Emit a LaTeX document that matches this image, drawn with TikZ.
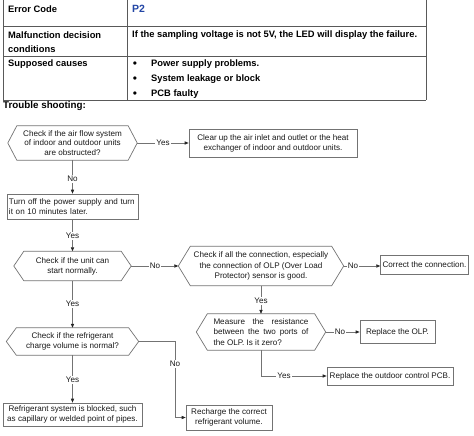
\documentclass[tikz,border=0pt]{standalone}
\usepackage{fontspec}
\setmainfont{Liberation Sans}
\usetikzlibrary{arrows.meta,calc}
\definecolor{ptwo}{RGB}{35,70,165}
\begin{document}
\begin{tikzpicture}[x=1pt,y=-1pt,
 tline/.style={draw=black!65, line width=0.9pt},
 line/.style={draw=black!55, line width=0.7pt},
 arr/.style={line, -{Triangle[length=4pt,width=3.2pt,color=black!85]}},
 fc/.style={font=\fontsize{8.1}{10}\selectfont, text=black!90, inner sep=0pt, align=center},
 boxn/.style={fc, draw=black!55, line width=0.7pt},
 lab/.style={font=\fontsize{8.1}{10}\selectfont, text=black!90, fill=white, inner sep=1pt},
 tb/.style={font=\fontsize{9.35}{14.5}\selectfont\bfseries, anchor=west, inner sep=0pt, align=left},
 bul/.style={font=\fontsize{12}{12}\selectfont, inner sep=0pt},
]
\useasboundingbox (0,0) rectangle (474,436);

% ---------- table ----------
\draw[tline] (3,0) -- (3,100);
\draw[tline] (127,0) -- (127,100);
\draw[tline] (426,0) -- (426,100);
\draw[tline] (3,26) -- (426,26);
\draw[tline] (3,56) -- (426,56);
\draw[tline] (3,100) -- (426,100);

\node[tb] (t1) at (8,9) {Error Code};
\node[tb, text=ptwo, font=\fontsize{10.5}{12}\selectfont\bfseries] (t2) at (132,9) {P2};
\node[tb, font=\fontsize{9.35}{14}\selectfont\bfseries] (t3) at (8,42) {Malfunction decision\\conditions};
\node[tb] (t4) at (132,35) {If the sampling voltage is not 5V, the LED will display the failure.};
\node[tb] (t5) at (8,64) {Supposed causes};
\node[bul] (u1) at (135,64.5) {•};
\node[bul] (u2) at (135,79.5) {•};
\node[bul] (u3) at (135,94.5) {•};
\node[tb] (c1) at (151,64) {Power supply problems.};
\node[tb] (c2) at (151,79) {System leakage or block};
\node[tb] (c3) at (151,94) {PCB faulty};
\node[tb, font=\fontsize{9.8}{12}\selectfont\bfseries] (ts) at (3,106) {Trouble shooting:};

% ---------- hexagon macro ----------
\newcommand\hexa[7][]{%
 \node[fc,minimum width=#4pt,minimum height=#5pt,#1] (#2) at #3 {#7};
 \coordinate (#2-l) at ([xshift=-#6pt]#2.west);
 \coordinate (#2-r) at ([xshift=#6pt]#2.east);
 \draw[line] (#2.north west) -- (#2.north east) -- (#2-r) -- (#2.south east)
   -- (#2.south west) -- (#2-l) -- cycle;}

% ---------- flowchart nodes ----------
\hexa[font=\fontsize{8.1}{9.2}\selectfont]{h1}{(72.5,143)}{111}{34}{9}{Check if the air flow system\\of indoor and outdoor units\\are obstructed?}
\node[boxn, minimum width=168pt, minimum height=28pt] (b1) at (273,143)
  {Clear up the air inlet and outlet or the heat\\exchanger of indoor and outdoor units.};
\node[boxn, minimum width=131pt, minimum height=25pt, text width=127pt, inner xsep=2pt, align=left] (b2) at (72.5,206.5)
  {Turn off the power supply and turn\\it on 10 minutes later.};
\hexa{h2}{(72.5,266)}{97}{29}{10}{Check if the unit can\\start normally.}
\hexa[font=\fontsize{8.1}{10.5}\selectfont]{h3}{(261,266)}{141}{39}{12}{Check if all the connection, especially\\the connection of OLP (Over Load\\Protector) sensor is good.}
\node[boxn, minimum width=86pt, minimum height=19pt, inner xsep=2pt] (b3) at (424.5,264.5) {Correct the connection.};
\hexa[font=\fontsize{8.1}{10.5}\selectfont, text width=95pt, align=justify]{h4}{(261,332)}{107}{36}{11}{Measure the resistance between the two ports of the OLP. Is it zero?}
\node[boxn, minimum width=75pt, minimum height=23pt] (b4) at (397.5,332) {Replace the OLP.};
\node[boxn, minimum width=126pt, minimum height=18pt] (b5) at (390,376) {Replace the outdoor control PCB.};
\hexa{h5}{(72.5,341.5)}{112}{27}{10}{Check if the refrigerant\\charge volume is normal?}
\node[boxn, minimum width=86pt, minimum height=25pt] (b6) at (229,417.5) {Recharge the correct\\refrigerant volume.};
\node[boxn, minimum width=139pt, minimum height=23pt] (b7) at (72.5,414.5) {Refrigerant system is blocked, such\\as capillary or welded point of pipes.};
\coordinate (k1) at (175,341.5);

% ---------- connectors ----------
\draw[arr] (h1-r) -- (b1.west);
\draw[arr] (h1.south) -- (b2.north);
\draw[arr] (b2.south) -- (h2.north);
\draw[arr] (h2-r) -- (h3-l);
\draw[arr] (h3-r) -- (h3-r -| b3.west);
\draw[arr] (h3.south) -- (h4.north);
\draw[arr] (h4-r) -- (b4.west);
\draw[arr] (h4.south) |- (b5.west);
\draw[arr] (h2.south) -- (h5.north);
\draw[arr] (h5-r) -- (k1) |- (b6.west);
\draw[arr] (h5.south) -- (b7.north);

% ---------- labels ----------
\node[lab] (l1) at (163,143) {Yes};
\node[lab] (l2) at (72.5,179) {No};
\node[lab] (l3) at (72.5,236) {Yes};
\node[lab] (l4) at (155,266) {No};
\node[lab] (l5) at (353,266) {No};
\node[lab] (l6) at (261,301) {Yes};
\node[lab] (l7) at (340,332) {No};
\node[lab] (l8) at (284,376) {Yes};
\node[lab] (l9) at (72.5,304) {Yes};
\node[lab] (l10) at (175,364) {No};
\node[lab] (l11) at (72.5,380) {Yes};
\end{tikzpicture}
\end{document}
